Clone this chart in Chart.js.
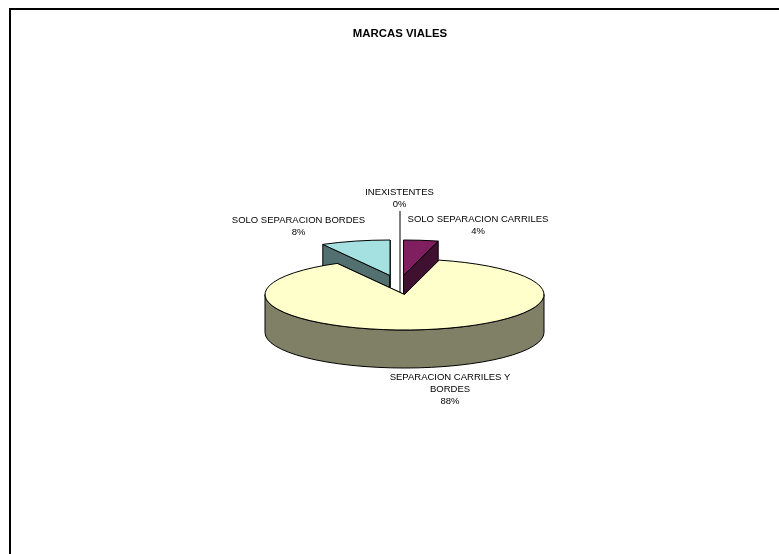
<!DOCTYPE html>
<html>
<head>
<meta charset="utf-8">
<style>html,body{margin:0;padding:0;background:#fff}#w{position:relative;width:779px;height:554px}</style>
<script src="https://cdn.jsdelivr.net/npm/chart.js@4"></script>
</head>
<body>
<div id="w"><canvas id="c" width="779" height="554"></canvas></div>
<script>
const chartTitle = 'MARCAS VIALES';
const categories = ['SOLO SEPARACION CARRILES', 'SEPARACION CARRILES Y BORDES', 'SOLO SEPARACION BORDES', 'INEXISTENTES'];
const values = [4, 88, 8, 0];
const topColors = ['#7f1f60', '#ffffcc', '#a5e1e1', '#ffffff'];
const wallColors = ['#3f1030', '#808066', '#527070', '#ffffff'];
const labelLines = [['SOLO SEPARACION CARRILES'], ['SEPARACION CARRILES Y', 'BORDES'], ['SOLO SEPARACION BORDES'], ['INEXISTENTES']];

const total = values.reduce((a, b) => a + b, 0);
const view = { cx: 404.5, cy: 294.5, ry: 35.5, depth: 38 };
const shifts = [[-1, -19], [0, 0], [-14.5, -19], [-4.5, -48]];
const labelPos = [[478, 219], [450, 377], [298.5, 220], [399.5, 192]];
const labelGap = 12.2;

const pie3d = {
  id: 'pie3d',
  beforeDraw(chart) {
    const ctx = chart.ctx;
    ctx.fillStyle = '#000';
    ctx.fillRect(9, 8, 770, 2);
    ctx.fillRect(9, 8, 2, 546);
  },
  beforeDatasetDraw(chart) {
    const ctx = chart.ctx;
    const arcs = chart.getDatasetMeta(0).data;
    const paint = i => {
      const arc = arcs[i];
      const R = arc.outerRadius, s = view.ry / R;
      const x = view.cx + shifts[i][0], y = view.cy + shifts[i][1];
      const a0 = arc.startAngle, a1 = arc.endAngle;
      ctx.lineWidth = 1; ctx.strokeStyle = '#000'; ctx.lineJoin = 'round';
      if (values[i] === 0) {
        ctx.beginPath();
        ctx.moveTo(x, y - view.ry);
        ctx.lineTo(x, view.cy + 6);
        ctx.stroke();
        return;
      }
      // radial side faces
      ctx.fillStyle = wallColors[i];
      [a0, a1].forEach(a => {
        const px = x + R * Math.cos(a), py = y + R * s * Math.sin(a);
        ctx.beginPath();
        ctx.moveTo(x, y); ctx.lineTo(px, py);
        ctx.lineTo(px, py + view.depth); ctx.lineTo(x, y + view.depth);
        ctx.closePath(); ctx.fill(); ctx.stroke();
      });
      // outer wall: the part of the rim that faces the viewer
      if (a1 - a0 > Math.PI) {
        ctx.beginPath();
        ctx.ellipse(x, y, R, R * s, 0, 0, Math.PI);
        ctx.lineTo(x - R, y + view.depth);
        ctx.ellipse(x, y + view.depth, R, R * s, 0, Math.PI, 0, true);
        ctx.closePath(); ctx.fill(); ctx.stroke();
      }
      // top face, drawn by the library's arc element
      ctx.save();
      ctx.translate(x, y); ctx.scale(1, s); ctx.translate(-arc.x, -arc.y);
      arc.draw(ctx);
      ctx.restore();
      ctx.beginPath();
      ctx.moveTo(x, y);
      ctx.ellipse(x, y, R, R * s, 0, a0, a1);
      ctx.closePath(); ctx.stroke();
    };
    [3, 2, 0, 1].forEach(paint);
    return false;
  },
  afterDraw(chart) {
    const ctx = chart.ctx;
    ctx.save();
    ctx.font = '9.5px "Liberation Sans", Arial, sans-serif';
    ctx.fillStyle = '#000'; ctx.textAlign = 'center'; ctx.textBaseline = 'middle';
    categories.forEach((c, i) => {
      const lines = labelLines[i].concat([Math.round(values[i] / total * 100) + '%']);
      lines.forEach((t, k) => ctx.fillText(t, labelPos[i][0], labelPos[i][1] + k * labelGap));
    });
    ctx.restore();
  }
};

new Chart(document.getElementById('c'), {
  type: 'pie',
  data: { labels: categories, datasets: [{ data: values, backgroundColor: topColors, borderWidth: 0, radius: 139.5 }] },
  options: {
    responsive: false,
    animation: false,
    layout: { padding: { left: 21 } },
    plugins: {
      legend: { display: false },
      tooltip: { enabled: false },
      title: { display: true, text: chartTitle, color: '#000', font: { family: '"Liberation Sans", Arial, sans-serif', size: 11.4, weight: 'bold' }, padding: { top: 27, bottom: 10 } }
    }
  },
  plugins: [pie3d]
});
</script>
</body>
</html>
